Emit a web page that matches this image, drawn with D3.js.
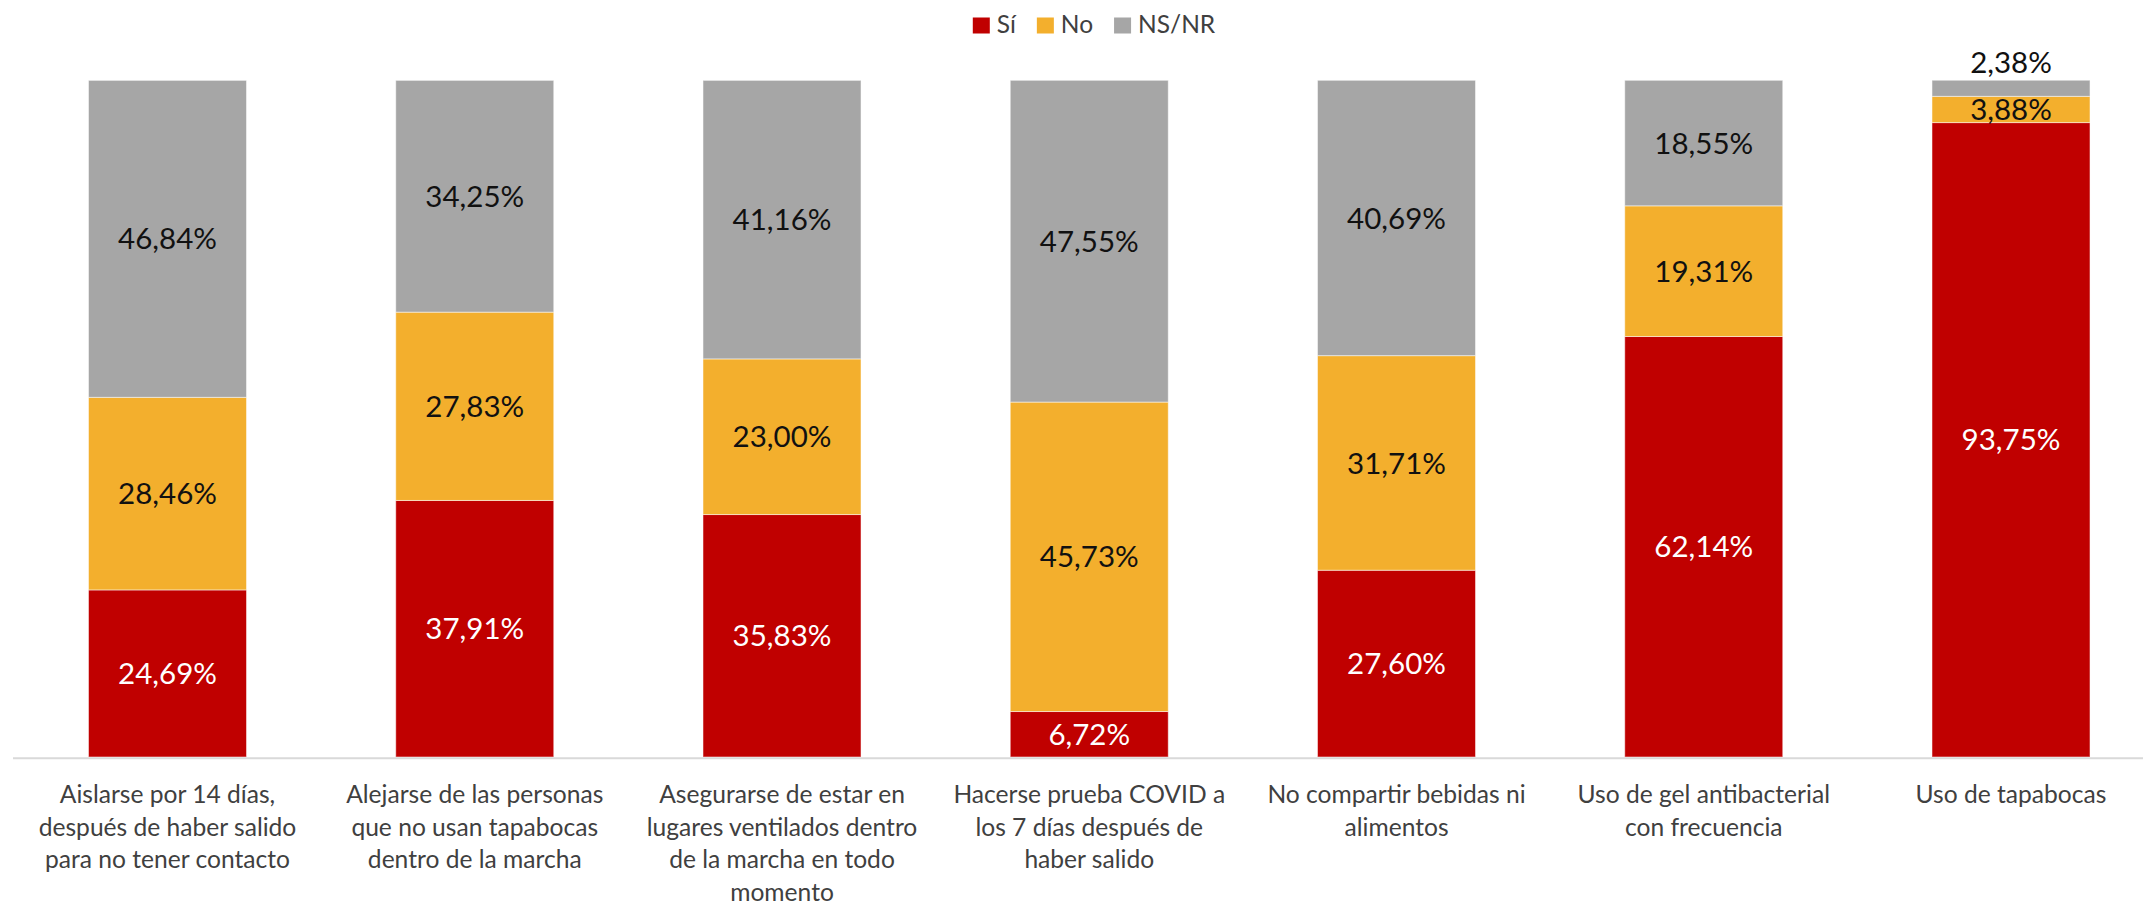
<!DOCTYPE html>
<html>
<head>
<meta charset="utf-8">
<script src="https://cdn.jsdelivr.net/npm/d3@7"></script>
<style>
  html, body { margin: 0; padding: 0; background: #fff; }
  svg { display: block; }
  text { font-family: Lato, "Open Sans", sans-serif; }
</style>
</head>
<body>
<svg id="chart" width="2143" height="907"></svg>
<script>
// ---- data ----
const categories = [
  "Aislarse por 14 días,\ndespués de haber salido\npara no tener contacto",
  "Alejarse de las personas\nque no usan tapabocas\ndentro de la marcha",
  "Asegurarse de estar en\nlugares ventilados dentro\nde la marcha en todo\nmomento",
  "Hacerse prueba COVID a\nlos 7 días después de\nhaber salido",
  "No compartir bebidas ni\nalimentos",
  "Uso de gel antibacterial\ncon frecuencia",
  "Uso de tapabocas"
];
const seriesNames = ["Sí", "No", "NS/NR"];
const si   = [24.69, 37.91, 35.83, 6.72, 27.60, 62.14, 93.75];
const no   = [28.46, 27.83, 23.00, 45.73, 31.71, 19.31, 3.88];
const nsnr = [46.84, 34.25, 41.16, 47.55, 40.69, 18.55, 2.38];
const colors = ["#C00000", "#F3AF2D", "#A6A6A6"];
const labelColors = ["#FFFFFF", "#111111", "#111111"];

// ---- build ----
const rows = categories.map((c, i) => ({ cat: c, "Sí": si[i], "No": no[i], "NS/NR": nsnr[i] }));
const stack = d3.stack().keys(seriesNames)(rows);

const svg = d3.select("#chart");
const W = 2143;

const step = 307.25;
const x = d3.scaleBand()
  .domain(categories)
  .range([167.5 - step / 2, 167.5 - step / 2 + step * categories.length])
  .paddingInner(0.4857)
  .paddingOuter(0.24285);

const y = d3.scaleLinear().domain([0, 100]).range([757, 80.3]);

const loc = d3.formatLocale({ decimal: ",", thousands: ".", grouping: [3], currency: ["", ""] });
const fmt = v => loc.format(".2f")(v) + "%";

// bars
const layers = svg.append("g").selectAll("g")
  .data(stack).join("g")
  .attr("fill", (d, i) => colors[i]);

layers.selectAll("rect")
  .data(d => d)
  .join("rect")
  .attr("x", d => x(d.data.cat))
  .attr("width", x.bandwidth())
  .attr("y", d => y(d[1]))
  .attr("height", d => y(d[0]) - y(d[1]))
  .attr("stroke", "#ffffff")
  .attr("stroke-opacity", 0.5)
  .attr("stroke-width", 1);

// axis line
svg.append("line")
  .attr("x1", 13).attr("x2", W)
  .attr("y1", 758.3).attr("y2", 758.3)
  .attr("stroke", "#D9D9D9").attr("stroke-width", 2);

// data labels
stack.forEach((layer, si_) => {
  svg.append("g").selectAll("text")
    .data(layer).join("text")
    .attr("x", d => x(d.data.cat) + x.bandwidth() / 2)
    .attr("y", d => {
      const v = d[1] - d[0];
      if (v < 3) return y(d[1]) - 18;
      return (y(d[0]) + y(d[1])) / 2;
    })
    .attr("dy", "0.36em")
    .attr("text-anchor", "middle")
    .attr("font-size", "29.5px")
    .attr("fill", d => (d[1] - d[0]) < 3 ? "#111111" : labelColors[si_])
    .text(d => fmt(d[1] - d[0]));
});

// category labels via axis
const axis = d3.axisBottom(x).tickSize(0).tickPadding(0);
const gx = svg.append("g").attr("transform", "translate(0,758)").call(axis);
gx.select(".domain").remove();
gx.selectAll(".tick text").remove();
gx.selectAll(".tick").each(function (d) {
  const t = d3.select(this).append("text")
    .attr("text-anchor", "middle")
    .attr("fill", "#404040")
    .attr("font-size", "24.6px")
    .attr("font-family", "Lato, 'Open Sans', sans-serif");
  d.split("\n").forEach((line, k) => {
    t.append("tspan").attr("x", 0).attr("y", 45 + k * 32.5).text(line);
  });
});

// legend
const legend = svg.append("g").attr("font-size", "24.5px").attr("fill", "#404040");
const items = legend.selectAll("g").data(seriesNames).join("g");
items.append("rect").attr("width", 17).attr("height", 16).attr("y", 17.5)
  .attr("fill", (d, i) => colors[i]);
items.append("text").attr("x", 24).attr("y", 33).text(d => d);
let cx = 0;
const widths = [];
items.each(function () {
  const w = d3.select(this).select("text").node().getComputedTextLength();
  widths.push(24 + w);
});
const total = d3.sum(widths) + 21 * (widths.length - 1);
const start = 1094 - total / 2;
cx = start;
items.each(function (d, i) {
  d3.select(this).attr("transform", `translate(${cx},0)`);
  cx += widths[i] + 21;
});
</script>
</body>
</html>
